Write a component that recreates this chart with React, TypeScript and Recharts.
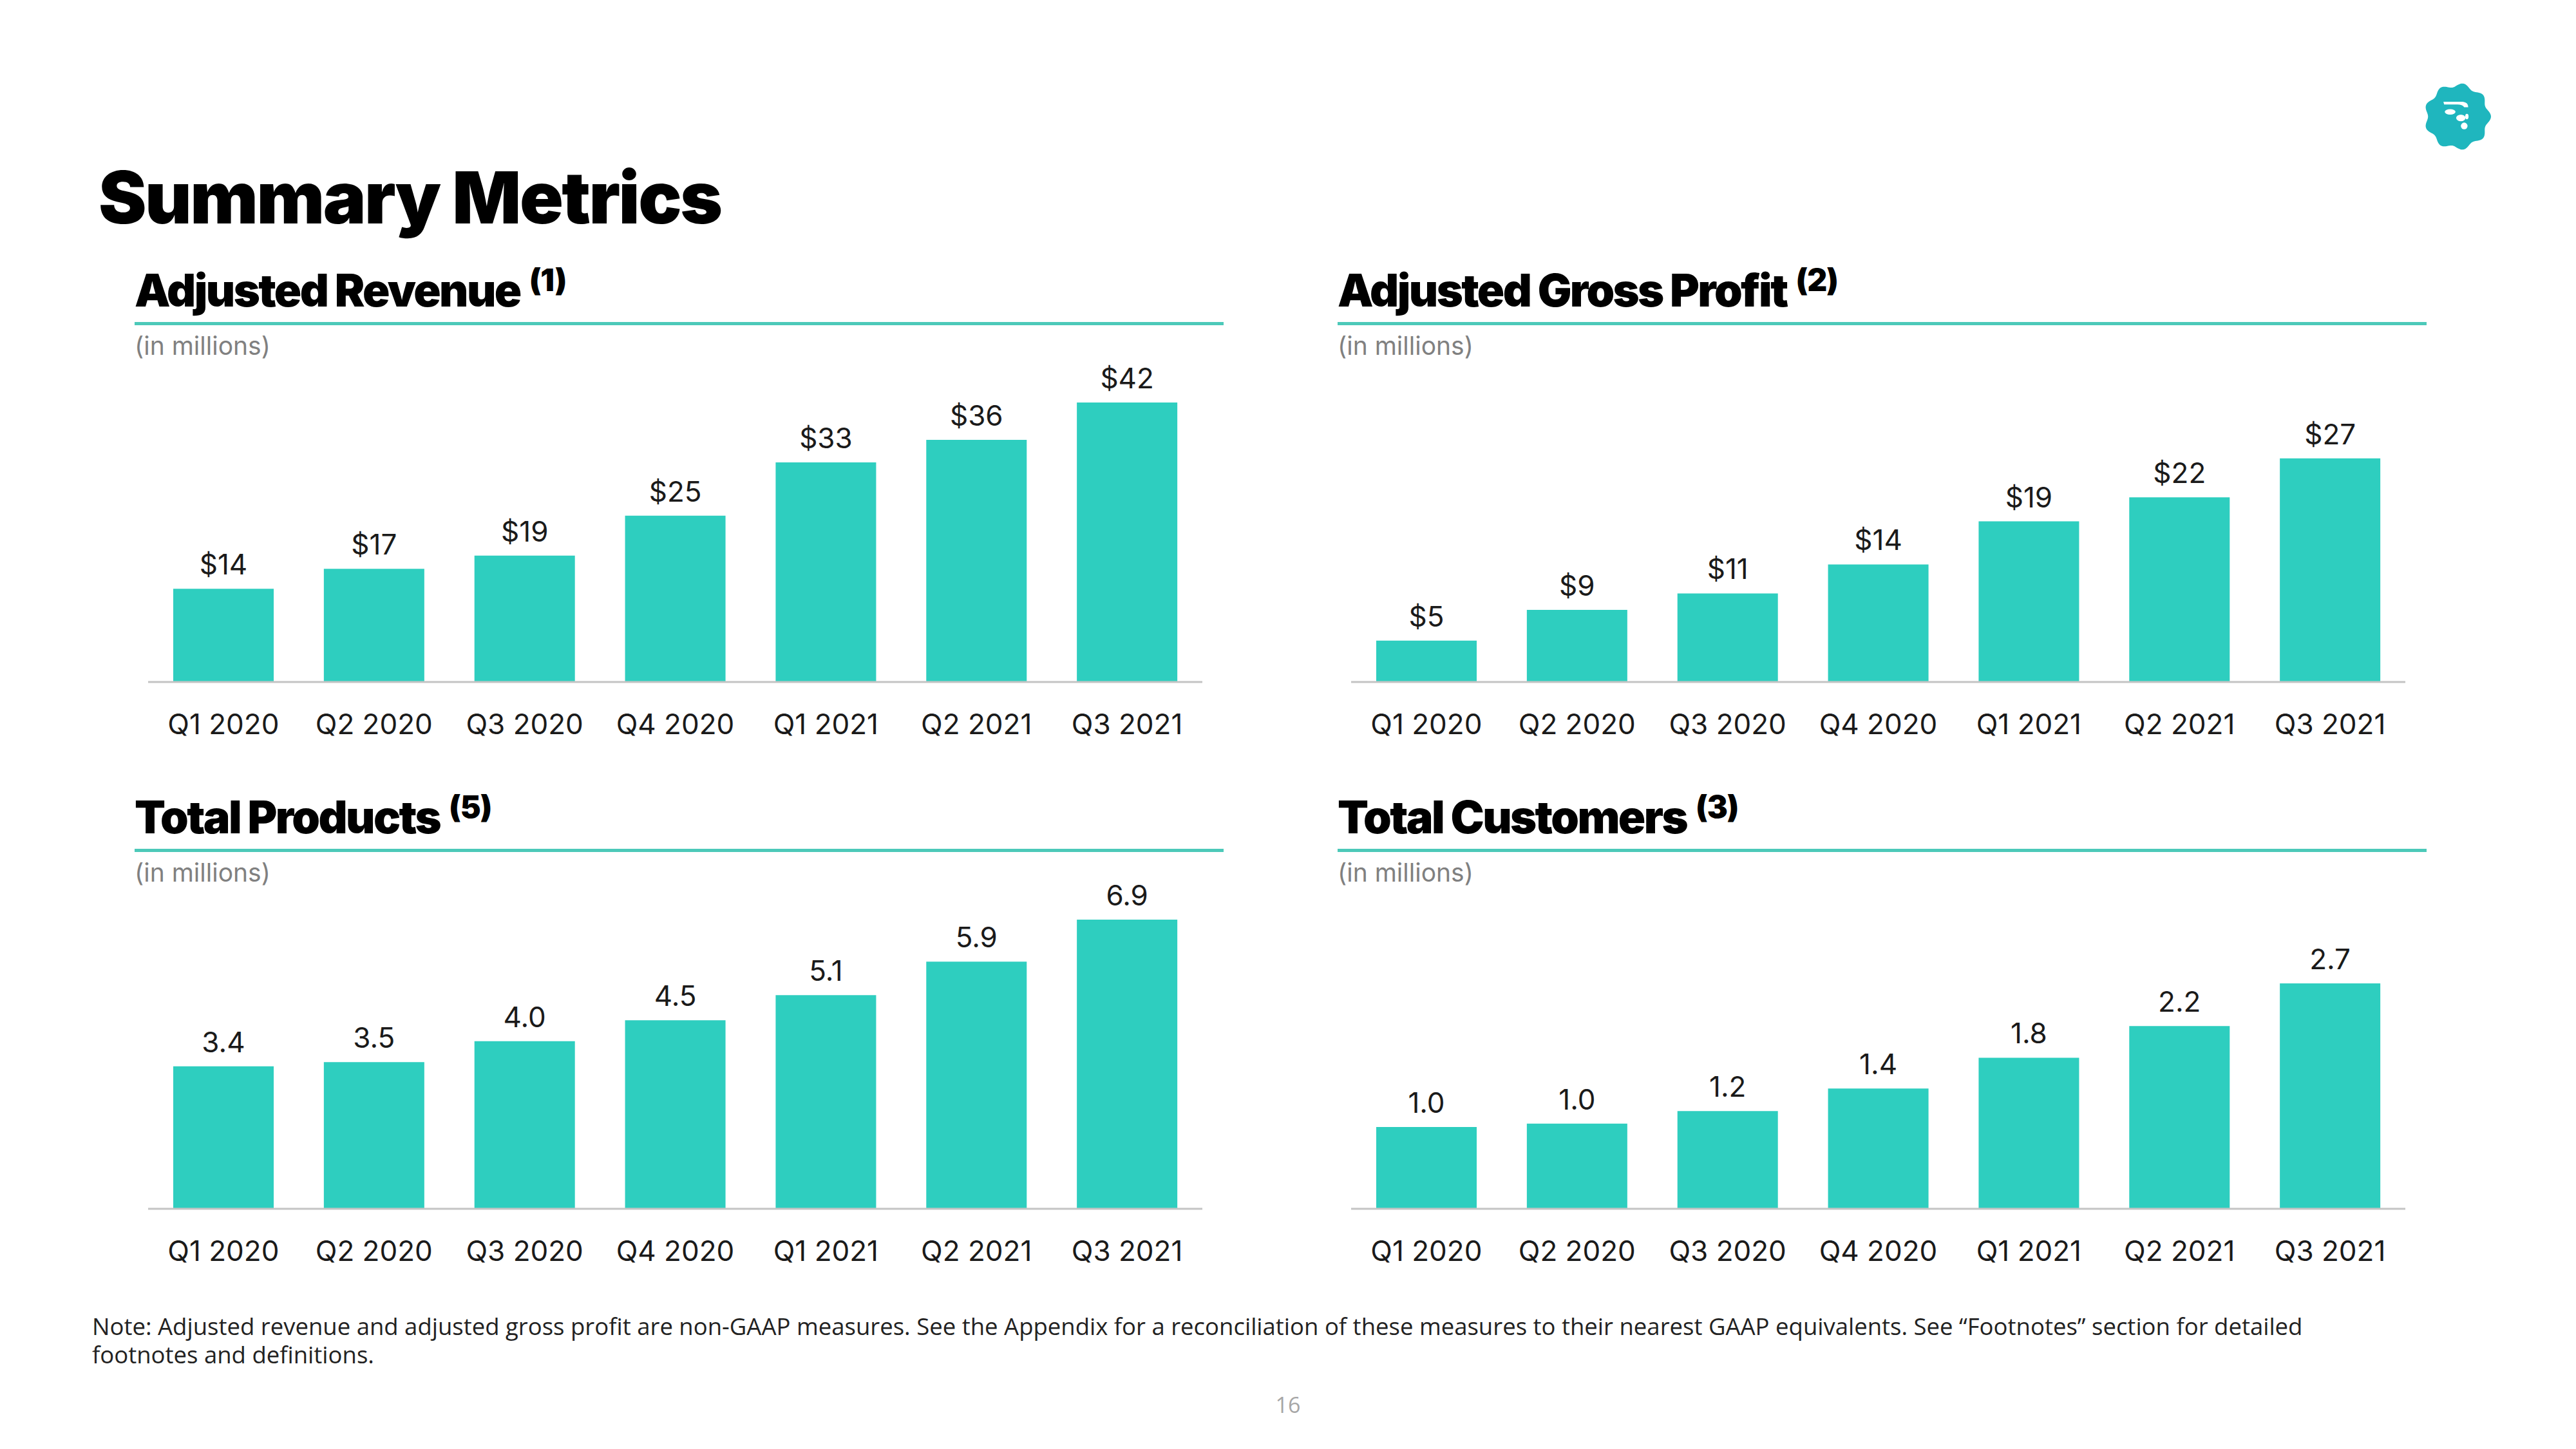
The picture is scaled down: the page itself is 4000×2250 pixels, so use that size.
import React from "react";
import { BarChart, Bar, XAxis, YAxis, LabelList } from "recharts";

const quarters = ["Q1 2020", "Q2 2020", "Q3 2020", "Q4 2020", "Q1 2021", "Q2 2021", "Q3 2021"];
const adjustedRevenue = [14, 17, 19, 25, 33, 36.4, 42];
const adjustedGrossProfit = [5, 8.7, 10.7, 14.2, 19.4, 22.3, 27];
const totalProducts = [3.4, 3.5, 4.0, 4.5, 5.1, 5.9, 6.9];
const totalCustomers = [0.98, 1.02, 1.17, 1.44, 1.81, 2.19, 2.7];

const TEAL = "#2ECEBF";
const RULE = "#4CC9B9";
const FONT = "Inter, 'Noto Sans', sans-serif";

const dollars = (v: any) => `$${Math.round(Number(v))}`;
const oneDecimal = (v: any) => Number(v).toFixed(1);

interface PanelProps {
  x: number;
  y: number;
  title: string;
  note: string;
  values: number[];
  max: number;
  format: (v: any) => string;
}

function MetricPanel({ x, y, title, note, values, max, format }: PanelProps) {
  const data = quarters.map((q, i) => ({ quarter: q, value: values[i] }));
  return (
    <>
      <div
        style={{
          position: "absolute",
          left: x,
          top: y - 84,
          fontFamily: FONT,
          fontWeight: 900,
          fontSize: 70,
          lineHeight: 1,
          letterSpacing: -2.6,
          color: "#000",
          whiteSpace: "nowrap",
        }}
      >
        {title}
        <span style={{ fontSize: 48, letterSpacing: -1, position: "relative", top: -24, marginLeft: 14 }}>{note}</span>
      </div>
      <div style={{ position: "absolute", left: x, top: y, width: 1691, height: 5, background: RULE }} />
      <div
        style={{
          position: "absolute",
          left: x,
          top: y + 17,
          fontFamily: FONT,
          fontSize: 39,
          lineHeight: 1,
          color: "#808080",
        }}
      >
        (in millions)
      </div>
      <div style={{ position: "absolute", left: x + 21, top: y + 20 }}>
        <BarChart width={1637} height={659} data={data} margin={{ top: 40, right: 0, left: 0, bottom: 0 }}>
          <YAxis hide domain={[0, max]} />
          <XAxis
            dataKey="quarter"
            height={120}
            tickLine={false}
            tickSize={0}
            tickMargin={50}
            axisLine={{ stroke: "#C4C4C4", strokeWidth: 3 }}
            tick={{ fill: "#1a1a1a", fontSize: 44, fontFamily: FONT }}
            interval={0}
          />
          <Bar dataKey="value" fill={TEAL} barSize={156} isAnimationActive={false}>
            <LabelList
              dataKey="value"
              position="top"
              offset={22}
              formatter={format}
              style={{ fill: "#1a1a1a", fontSize: 44, fontFamily: FONT }}
            />
          </Bar>
        </BarChart>
      </div>
    </>
  );
}

function Logo() {
  const cx = 50;
  const cy = 50;
  const pts: string[] = [];
  for (let i = 0; i <= 180; i++) {
    const a = (i / 180) * Math.PI * 2;
    const r = 47 + 3 * Math.cos(a * 9);
    pts.push(`${(cx + r * Math.cos(a)).toFixed(2)},${(cy + r * Math.sin(a)).toFixed(2)}`);
  }
  return (
    <svg width={104} height={104} viewBox="0 0 100 100" style={{ position: "absolute", left: 3764, top: 129 }}>
      <polygon points={pts.join(" ")} fill="#1FB6BE" />
      <path d="M29 28 L58 28 Q66 29 66 36 L60 36 Q57 32 50 32 L30 32 Z" fill="#fff" />
      <ellipse cx={39} cy={43} rx={8} ry={4} fill="#fff" />
      <ellipse cx={55} cy={52} rx={7} ry={5} fill="#fff" />
      <ellipse cx={64} cy={50} rx={2.5} ry={4} fill="#fff" />
      <ellipse cx={60} cy={64} rx={5} ry={5} fill="#fff" />
    </svg>
  );
}

export default function App() {
  return (
    <div style={{ position: "absolute", left: 0, top: 0, width: 4000, height: 2250, background: "#fff", overflow: "hidden" }}>
      <div
        style={{
          position: "absolute",
          left: 153,
          top: 250,
          fontFamily: FONT,
          fontWeight: 900,
          fontSize: 112,
          lineHeight: 1,
          letterSpacing: -2.5,
          color: "#000",
        }}
      >
        Summary Metrics
      </div>
      <Logo />

      <MetricPanel x={209} y={500} title="Adjusted Revenue" note="(1)" values={adjustedRevenue} max={48.3} format={dollars} />
      <MetricPanel x={2077} y={500} title="Adjusted Gross Profit" note="(2)" values={adjustedGrossProfit} max={38.8} format={dollars} />
      <MetricPanel x={209} y={1318} title="Total Products" note="(5)" values={totalProducts} max={7.67} format={oneDecimal} />
      <MetricPanel x={2077} y={1318} title="Total Customers" note="(3)" values={totalCustomers} max={3.85} format={oneDecimal} />

      <div
        style={{
          position: "absolute",
          left: 143,
          top: 2037,
          fontFamily: "'Open Sans', sans-serif",
          fontSize: 36.5,
          lineHeight: "44px",
          color: "#222",
          whiteSpace: "nowrap",
        }}
      >
        Note: Adjusted revenue and adjusted gross profit are non-GAAP measures. See the Appendix for a reconciliation of these measures to their nearest GAAP equivalents. See “Footnotes” section for detailed
        <br />
        footnotes and definitions.
      </div>
      <div
        style={{
          position: "absolute",
          left: 1950,
          width: 100,
          textAlign: "center",
          top: 2164,
          fontFamily: "'Open Sans', sans-serif",
          fontSize: 34,
          lineHeight: 1,
          color: "#A6A6A6",
        }}
      >
        16
      </div>
    </div>
  );
}
